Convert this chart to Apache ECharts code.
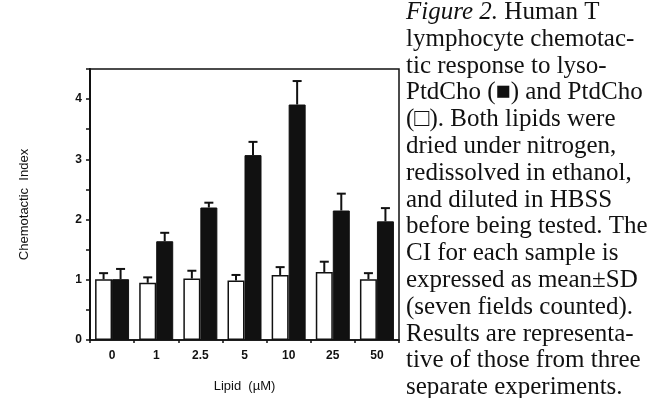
<!DOCTYPE html>
<html>
<head>
<meta charset="utf-8">
<script src="https://cdn.jsdelivr.net/npm/echarts@6/dist/echarts.min.js"></script>
<style>
  html, body { margin: 0; padding: 0; background: #fff; }
  #main { width: 653px; height: 398px; }
</style>
</head>
<body>
<div id="main"></div>
<script type="text/javascript">
// data
var lipidDoses = ['0', '1', '2.5', '5', '10', '25', '50'];
var ptdChoMean = [1.01, 0.95, 1.02, 0.99, 1.08, 1.13, 1.01];
var ptdChoSD = [0.10, 0.09, 0.13, 0.09, 0.13, 0.17, 0.10];
var lysoMean = [1.01, 1.64, 2.20, 3.07, 3.91, 2.15, 1.97];
var lysoSD = [0.17, 0.14, 0.08, 0.22, 0.39, 0.28, 0.22];
var yTicks = [0, 1, 2, 3, 4];

var captionLines = [
    'lymphocyte chemotac-',
    'tic response to lyso-',
    'PtdCho (\u25A0) and PtdCho',
    '(\u25A1). Both lipids were',
    'dried under nitrogen,',
    'redissolved in ethanol,',
    'and diluted in HBSS',
    'before being tested. The',
    'CI for each sample is',
    'expressed as mean\u00B1SD',
    '(seven fields counted).',
    'Results are representa-',
    'tive of those from three',
    'separate experiments.'
];

var myChart = echarts.init(document.getElementById('main'));

var BAR_W = 17;

function errData(mean, sd) {
    var out = [];
    for (var i = 0; i < mean.length; i++) {
        out.push([i, mean[i], sd[i]]);
    }
    return out;
}

// only the upper half of each error bar is drawn, with a short cap
function errRender(offset) {
    return function (params, api) {
        var base = api.coord([api.value(0), api.value(1)]);
        var top = api.coord([api.value(0), api.value(1) + api.value(2)]);
        var x = base[0] + offset;
        var st = { stroke: '#111', lineWidth: 2 };
        return {
            type: 'group',
            children: [
                { type: 'line', shape: { x1: x, y1: base[1], x2: x, y2: top[1] }, style: st },
                { type: 'line', shape: { x1: x - 4.5, y1: top[1], x2: x + 4.5, y2: top[1] }, style: st }
            ]
        };
    };
}

var fontSans = 'Liberation Sans, Arial, sans-serif';
var fontSerif = 'Liberation Serif, Times New Roman, serif';
var capSize = 25;

var graphics = [{
    type: 'text',
    left: 406,
    top: 0,
    style: {
        text: '{i|Figure 2.} Human T',
        font: capSize + 'px ' + fontSerif,
        fill: '#111',
        rich: {
            i: { fontStyle: 'italic', fontSize: capSize, fontFamily: fontSerif, fill: '#111' }
        }
    }
}];
for (var k = 0; k < captionLines.length; k++) {
    graphics.push({
        type: 'text',
        left: 406,
        top: (k + 1) * 26.8,
        style: { text: captionLines[k], font: capSize + 'px ' + fontSerif, fill: '#111' }
    });
}

var option = {
    animation: false,
    backgroundColor: '#fff',
    grid: {
        left: 90, right: 254, top: 69, bottom: 56,
        show: true, borderColor: '#111', borderWidth: 1.5
    },
    xAxis: {
        type: 'category',
        data: lipidDoses,
        name: 'Lipid  (\u00B5M)',
        nameLocation: 'middle',
        nameGap: 40,
        nameTextStyle: { fontFamily: fontSans, fontSize: 13, color: '#111' },
        axisLine: { lineStyle: { color: '#111', width: 1.5 } },
        axisTick: { show: true, length: 3, lineStyle: { color: '#111', width: 1.5 } },
        axisLabel: { fontFamily: fontSans, fontSize: 12, fontWeight: 'bold', color: '#111', margin: 10 },
        splitLine: { show: false }
    },
    yAxis: {
        type: 'value',
        min: 0, max: 4.5, interval: 0.5,
        name: 'Chemotactic  Index',
        nameLocation: 'middle',
        nameGap: 59,
        nameTextStyle: { fontFamily: fontSans, fontSize: 13, color: '#111' },
        axisLine: { show: true, lineStyle: { color: '#111', width: 2 } },
        axisTick: { show: true, length: 4, lineStyle: { color: '#111', width: 1.5 } },
        axisLabel: {
            fontFamily: fontSans, fontSize: 12, fontWeight: 'bold', color: '#111', margin: 8,
            formatter: function (v) { return yTicks.indexOf(v) >= 0 ? String(v) : ''; }
        },
        splitLine: { show: false }
    },
    series: [
        {
            name: 'PtdCho',
            type: 'bar',
            data: ptdChoMean,
            barWidth: BAR_W,
            barGap: '0%',
            itemStyle: { color: '#fff', borderColor: '#111', borderWidth: 1.5 }
        },
        {
            name: 'lyso-PtdCho',
            type: 'bar',
            data: lysoMean,
            barWidth: BAR_W,
            barGap: '0%',
            itemStyle: { color: '#111', borderColor: '#111', borderWidth: 1 }
        },
        {
            type: 'custom',
            renderItem: errRender(-BAR_W / 2),
            data: errData(ptdChoMean, ptdChoSD),
            z: 5
        },
        {
            type: 'custom',
            renderItem: errRender(BAR_W / 2),
            data: errData(lysoMean, lysoSD),
            z: 5
        }
    ],
    graphic: graphics
};

myChart.setOption(option);
</script>
</body>
</html>
